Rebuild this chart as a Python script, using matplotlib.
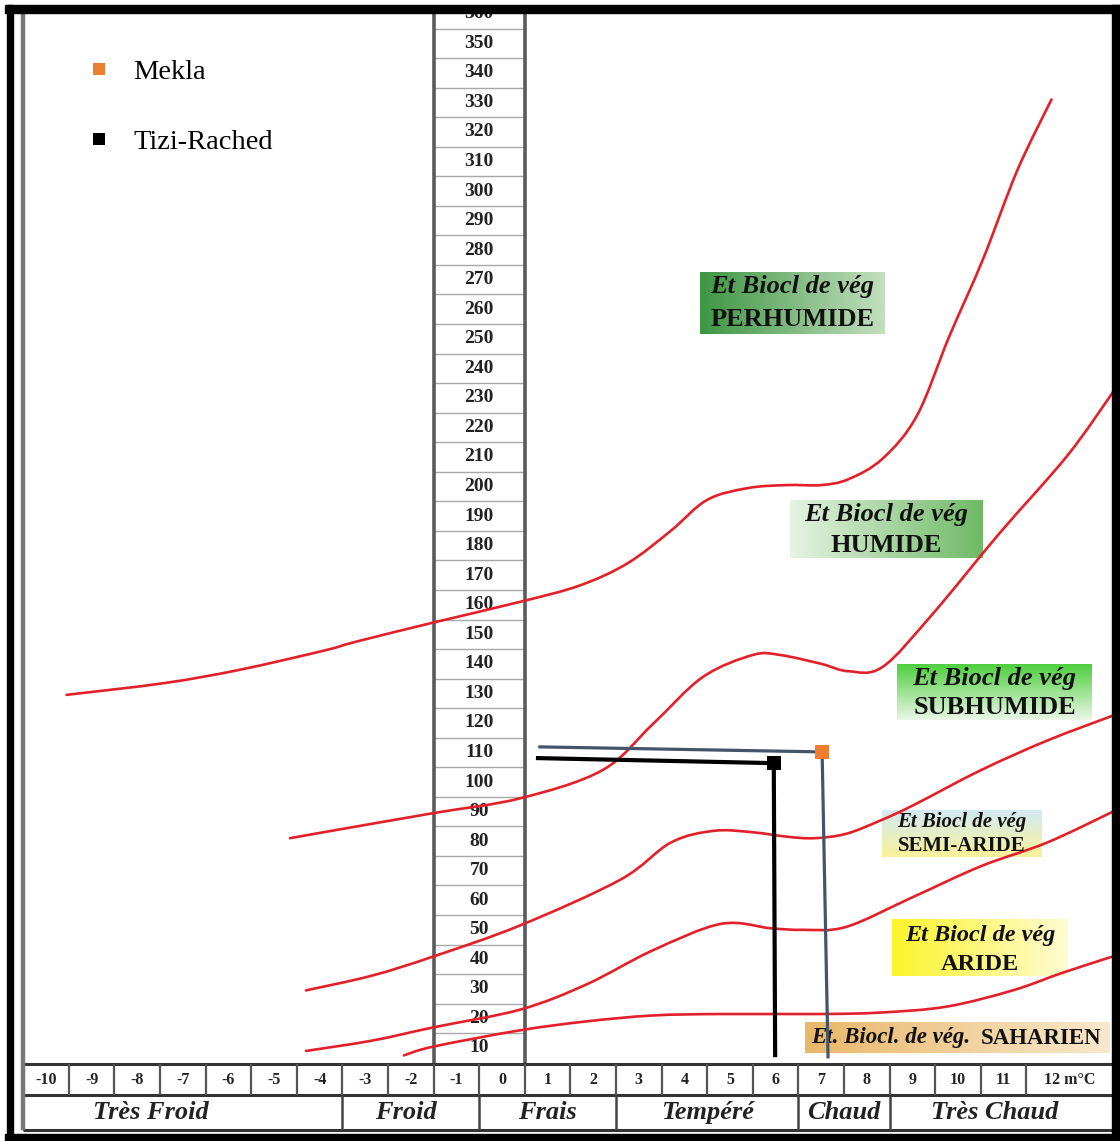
import numpy as np
import matplotlib
matplotlib.use("Agg")
import matplotlib.pyplot as plt
import matplotlib.colors as mcolors
from matplotlib.patches import Rectangle, PathPatch
from matplotlib.path import Path
from matplotlib.lines import Line2D

# ---------------- data ----------------
q_ticks = list(range(10, 361, 10))          # Q2 axis labels
m_ticks = list(range(-10, 12))              # m (°C) labels, last cell "12 m°C"
m_last_label = "12 m°C"
zones = ["Très Froid", "Froid", "Frais", "Tempéré", "Chaud", "Très Chaud"]
zone_bounds = [-10.5, -3.5, -0.5, 2.5, 6.5, 8.5]
zone_label_m = [-7.7, -2.1, 1.0, 4.5, 7.5, 10.8]

# limit curves (m, Q2)
c1_m = [-9.55, -7.4, -5.75, -3.9, -3.2, -1.5, 0.4, 1.7, 2.75, 3.7, 4.5, 5.4, 6.25, 7.0, 7.6, 8.35, 9.1, 9.8, 10.55, 11.3, 12.05]
c1_q = [129.5, 133.5, 138, 144.5, 147.5, 154, 161, 166.5, 174, 185, 195.5, 199.5, 200.5, 200.5, 202.5, 209.5, 224, 250.5, 277, 307, 331]
c2_m = [-4.65, -3.55, -1.5, 0.4, 2.2, 3.3, 4.4, 5.5, 6.1, 7.0, 7.6, 8.35, 9.45, 10.9, 12.4, 13.4]
c2_q = [81, 84, 89.5, 94.5, 104, 119.5, 135.5, 143, 143, 140, 137.5, 139, 157, 184, 210.5, 232]
c3_m = [-4.3, -2.85, -1.5, 0.4, 2.6, 3.7, 4.65, 5.5, 6.25, 6.85, 7.55, 8.3, 9.0, 10.5, 11.95, 13.4]
c3_q = [29.5, 34.5, 41, 51.5, 67, 79.5, 83.5, 83, 81.5, 81, 82.5, 87, 92, 104, 114, 122.5]
c4_m = [-4.3, -2.85, -1.5, 0.4, 1.85, 3.3, 4.8, 5.9, 6.6, 7.55, 9.0, 10.5, 11.95, 13.4]
c4_q = [9, 12.5, 17, 23, 31.5, 43, 52, 50.5, 50, 51, 61, 71.5, 79.5, 90]
c5_m = [-2.15, -1.5, 0.4, 1.85, 3.3, 4.8, 7.0, 8.3, 9.75, 11.2, 12.3, 13.4]
c5_q = [7.5, 10.5, 16, 19, 21, 21.5, 21.5, 22, 24, 29.5, 35.5, 41]
curves_m = [c1_m, c2_m, c3_m, c4_m, c5_m]
curves_q = [c1_q, c2_q, c3_q, c4_q, c5_q]

# stations
stations = ["Mekla", "Tizi-Rached"]
station_m = [7.02, 5.96]
station_q = [110.2, 106.4]
station_colors = ["#ED7D31", "#000000"]
guide_colors = ["#44546A", "#000000"]
guide_start_m = [0.83, 0.79]
guide_start_q = [111.9, 108.1]
guide_end_m = [7.15, 5.99]
guide_end_q = [7.0, 7.6]

# bioclimatic stage labels
stage_names = ["PERHUMIDE", "HUMIDE", "SUBHUMIDE", "SEMI-ARIDE", "ARIDE"]
stage_prefix = "Et Biocl de vég"
sahara_prefix = "Et. Biocl. de vég."
sahara_name = "SAHARIEN"

# ---------------- layout helpers (pixel -> data) ----------------
W, H = 1120, 1141
X0, DX = 502.0, 45.6
Y0, DY = 1048.0, 2.955


def m_of(px):
    return (px - X0) / DX


def q_of(py):
    return 10 + (Y0 - py) / DY


SERIF = ["Liberation Serif", "DejaVu Serif"]

fig = plt.figure(figsize=(W / 100, H / 100), dpi=100)
ax = fig.add_axes([0, 0, 1, 1])
ax.axis("off")

# ---------------- central Q2 column ----------------
top_q = q_of(8)
tab_top = q_of(1064)
tab_mid = q_of(1095)
tab_bot = q_of(1130)
ax.hlines([q + 5 for q in q_ticks[:-1]], -1.5, 0.5, color="#a8a8a8", lw=1.0, zorder=1)
ax.vlines([-1.5, 0.5], tab_top, top_q, color="#5a5a5a", lw=2.6, zorder=3)
for q in q_ticks:
    ax.text(-0.5, q, str(q), ha="center", va="center", fontsize=14,
            fontweight="bold", family=SERIF, color="#222222", zorder=2)


# ---------------- limit curves (smooth rendering through the read points) ----------------
def smooth_path(xs, ys):
    p = np.column_stack([xs, ys]).astype(float)
    pp = np.vstack([p[0], p, p[-1]])
    verts = [tuple(p[0])]
    codes = [Path.MOVETO]
    for i in range(1, len(pp) - 2):
        p0, p1, p2, p3 = pp[i - 1], pp[i], pp[i + 1], pp[i + 2]
        c1 = p1 + (p2 - p0) / 6.0
        c2 = p2 - (p3 - p1) / 6.0
        verts += [tuple(c1), tuple(c2), tuple(p2)]
        codes += [Path.CURVE4] * 3
    return Path(verts, codes)


for cm, cq in zip(curves_m, curves_q):
    ax.add_patch(PathPatch(smooth_path(cm, cq), fill=False, edgecolor="#E3202A",
                           lw=1.9, capstyle="round", joinstyle="round", zorder=4))


# ---------------- stage boxes ----------------
def grad_box(x0, x1, y0, y1, c_a, c_b, vertical=False):
    a = np.array(mcolors.to_rgb(c_a))
    b = np.array(mcolors.to_rgb(c_b))
    t = np.linspace(0, 1, 64)
    cols = a[None, :] * (1 - t[:, None]) + b[None, :] * t[:, None]
    img = cols[:, None, :] if vertical else cols[None, :, :]
    ax.imshow(img, extent=(m_of(x0), m_of(x1), q_of(y1), q_of(y0)),
              origin="upper", aspect="auto", interpolation="bilinear", zorder=2)


boxes = [
    (700, 885, 272, 334, "#3f9645", "#c2dfbe", False, 287, 320, 19),
    (790, 983, 500, 558, "#e6f3e2", "#6fba66", False, 515, 546, 19),
    (897, 1092, 664, 720, "#4fcf3f", "#eaf6e6", True, 679, 708, 19),
    (882, 1042, 810, 857, "#d4eaf3", "#f8f29a", True, 822, 846, 15),
    (892, 1068, 920, 976, "#fbf42c", "#fffbd2", False, 935, 965, 17.5),
]
for (x0, x1, y0, y1, ca, cb, vert, ty1, ty2, fs), name in zip(boxes, stage_names):
    grad_box(x0, x1, y0, y1, ca, cb, vert)
    cx = m_of((x0 + x1) / 2)
    ax.text(cx, q_of(ty1), stage_prefix, ha="center", va="center", fontsize=fs,
            fontweight="bold", fontstyle="italic", family=SERIF, color="#111111", zorder=5)
    ax.text(cx, q_of(ty2), name, ha="center", va="center", fontsize=fs,
            fontweight="bold", family=SERIF, color="#111111", zorder=5)

grad_box(805, 1110, 1023, 1053, "#e9b76a", "#f9e8cc", False)
ax.text(m_of(811), q_of(1038), sahara_prefix, ha="left", va="center", fontsize=16.5,
        fontweight="bold", fontstyle="italic", family=SERIF, color="#111111", zorder=5)
ax.text(m_of(1101), q_of(1038), sahara_name, ha="right", va="center", fontsize=16.5,
        fontweight="bold", family=SERIF, color="#111111", zorder=5)

# ---------------- stations ----------------
for i in range(len(stations)):
    ax.plot([guide_start_m[i], station_m[i], guide_end_m[i]],
            [guide_start_q[i], station_q[i], guide_end_q[i]],
            color=guide_colors[i], lw=2.3 if i == 0 else 3.0, zorder=6,
            solid_joinstyle="miter")
    ax.plot([station_m[i]], [station_q[i]], marker="s", ms=10.5, mew=0,
            color=station_colors[i], ls="none", zorder=7)

handles = [Line2D([], [], marker="s", ls="none", ms=9, mew=0, color=c) for c in station_colors]
leg = ax.legend(handles, stations, loc="upper left",
                bbox_to_anchor=(85 / W, 1 - 59 / H), frameon=False,
                prop={"family": SERIF, "size": 20.5}, handlelength=1.0,
                handletextpad=0.7, labelspacing=1.55, borderpad=0, borderaxespad=0)

# ---------------- bottom table ----------------
tab_left, tab_right = -10.5, m_of(1112)
ax.hlines([tab_top, tab_mid, tab_bot], tab_left, tab_right, color="#333333", lw=2.2, zorder=3)
ax.vlines([k + 0.5 for k in range(-11, 12)], tab_mid, tab_top, color="#555555", lw=1.6, zorder=3)
ax.vlines(zone_bounds, tab_bot, tab_mid, color="#444444", lw=1.8, zorder=3)
ax.vlines([tab_left], tab_bot, top_q, color="#777777", lw=3.2, zorder=3)
row1_q = (tab_top + tab_mid) / 2
row2_q = (tab_mid + tab_bot) / 2
for m in m_ticks:
    ax.text(m, row1_q, str(m), ha="center", va="center", fontsize=11.5,
            fontweight="bold", family=SERIF, color="#222222", zorder=5)
ax.text((11.5 + tab_right) / 2, row1_q, m_last_label, ha="center", va="center", fontsize=11.5,
        fontweight="bold", family=SERIF, color="#222222", zorder=5)
for name, zm in zip(zones, zone_label_m):
    ax.text(zm, row2_q, name, ha="center", va="center", fontsize=19,
            fontweight="bold", fontstyle="italic", family=SERIF, color="#222222", zorder=5)

# ---------------- outer black frame ----------------
for (x, y, w, h) in [(5, 5, W - 5, 8), (7, 5, 6, H - 5), (1112, 5, 8, H - 5), (5, 1134, W - 5, 7)]:
    fig.add_artist(Rectangle((x / W, 1 - (y + h) / H), w / W, h / H,
                             transform=fig.transFigure, color="black", zorder=20))

ax.set_xlim(m_of(0), m_of(W))
ax.set_ylim(q_of(H), q_of(0))
fig.savefig("out.png", dpi=100)
